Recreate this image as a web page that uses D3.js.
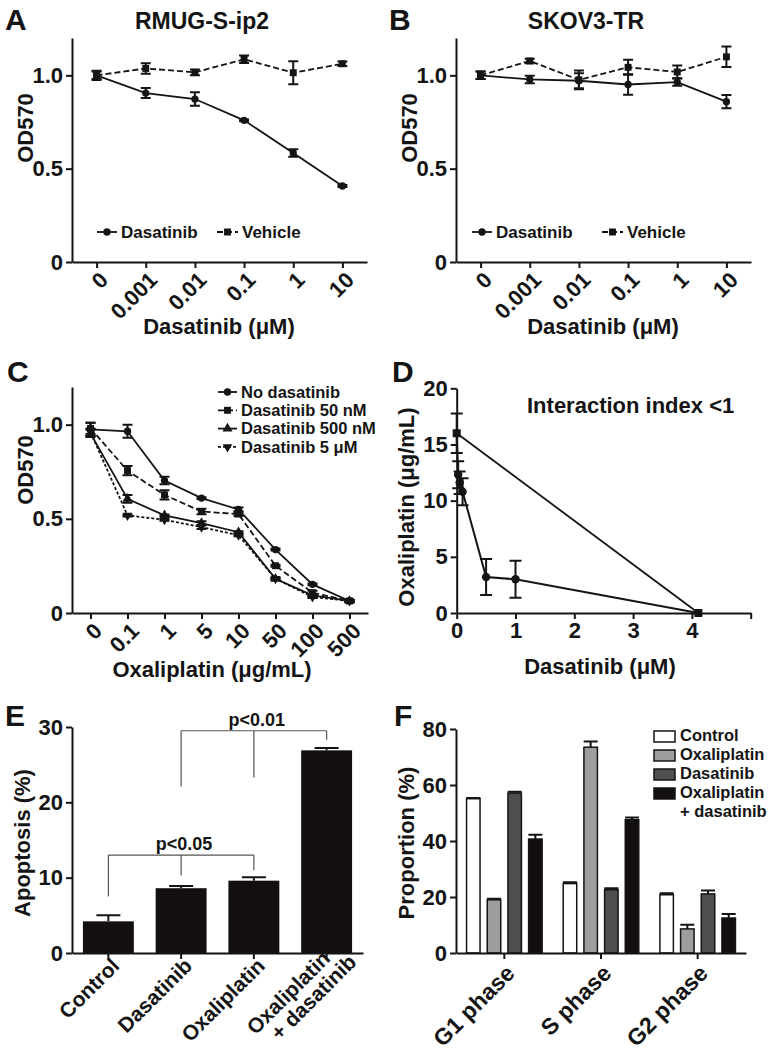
<!DOCTYPE html>
<html>
<head>
<meta charset="utf-8">
<script src="https://cdn.jsdelivr.net/npm/d3@7"></script>
<style>
body { margin: 0; background: #fff; }
svg { font-family: "Liberation Sans", Arial, Helvetica, sans-serif; font-weight: bold; }
.axis path, .axis line { stroke: #141414; stroke-width: 2; }
.axis text { font-family: "Liberation Sans", Arial, sans-serif; font-size: 22px; font-weight: bold; fill: #141414; }
</style>
</head>
<body>
<div id="chart"></div>
<script>
// ---- A / B : viability vs dasatinib dose ----
const dasatinibDoses = ['0', '0.001', '0.01', '0.1', '1', '10'];
const rmugDasatinib = [1.00, 0.905, 0.873, 0.759, 0.584, 0.407];
const rmugDasatinibErr = [0.02, 0.027, 0.036, 0.005, 0.02, 0.005];
const rmugVehicle = [1.00, 1.037, 1.016, 1.086, 1.014, 1.062];
const rmugVehicleErr = [0.025, 0.028, 0.015, 0.02, 0.062, 0.012];
const skovDasatinib = [1.00, 0.978, 0.971, 0.951, 0.964, 0.859];
const skovDasatinibErr = [0.02, 0.02, 0.04, 0.055, 0.02, 0.036];
const skovVehicle = [1.00, 1.077, 0.976, 1.043, 1.018, 1.099];
const skovVehicleErr = [0.02, 0.012, 0.05, 0.04, 0.035, 0.055];

// ---- C : viability vs oxaliplatin dose ----
const oxaliplatinDoses = ['0', '0.1', '1', '5', '10', '50', '100', '500'];
const noDasatinib = [0.975, 0.965, 0.703, 0.61, 0.55, 0.337, 0.152, 0.064];
const noDasatinibErr = [0.035, 0.035, 0.02, 0.005, 0.01, 0.005, 0.005, 0.005];
const dasatinib50nM = [0.98, 0.756, 0.627, 0.539, 0.525, 0.251, 0.108, 0.064];
const dasatinib50nMErr = [0.03, 0.025, 0.025, 0.015, 0.01, 0.005, 0.01, 0.005];
const dasatinib500nM = [0.954, 0.606, 0.518, 0.477, 0.429, 0.182, 0.094, 0.064];
const dasatinib500nMErr = [0.02, 0.02, 0.005, 0.01, 0.005, 0.005, 0.005, 0.005];
const dasatinib5uM = [0.96, 0.518, 0.495, 0.456, 0.413, 0.182, 0.085, 0.064];
const dasatinib5uMErr = [0.02, 0.005, 0.005, 0.01, 0.005, 0.005, 0.005, 0.005];
const legendC = ['No dasatinib', 'Dasatinib 50 nM', 'Dasatinib 500 nM', 'Dasatinib 5 μM'];

// ---- D : isobologram ----
const isoboleDasatinib = [0, 0.025, 0.05, 0.1, 0.5, 1, 4.11];
const isoboleOxaliplatin = [16, 12.3, 11.6, 10.8, 3.2, 3.0, 0];
const isoboleErr = [1.75, 1.2, 1.0, 1.2, 1.6, 1.65, 0];

// ---- E : apoptosis ----
const apoptosisGroups = ['Control', 'Dasatinib', 'Oxaliplatin', 'Oxaliplatin\n+ dasatinib'];
const apoptosisPct = [4.2, 8.6, 9.6, 26.9];
const apoptosisErr = [0.8, 0.3, 0.45, 0.3];
const apoptosisTests = [
    { label: 'p<0.05', level: 13, legs: [['Control', 7.5], ['Dasatinib', 10.3], ['Oxaliplatin', 11]] },
    { label: 'p<0.01', level: 29.5, legs: [['Dasatinib', 22.1], ['Oxaliplatin', 23.3], ['Oxaliplatin\n+ dasatinib', 28.3]] }
];

// ---- F : cell cycle ----
const phases = ['G1 phase', 'S phase', 'G2 phase'];
const treatments = ['Control', 'Oxaliplatin', 'Dasatinib', 'Oxaliplatin\n+ dasatinib'];
const cycleControl = [55.1, 24.8, 20.8];
const cycleOxaliplatin = [19.0, 73.5, 8.6];
const cycleDasatinib = [57.1, 22.6, 21.1];
const cycleCombo = [40.7, 47.6, 12.5];
const cycleControlErr = [0.3, 0.5, 0.5];
const cycleOxaliplatinErr = [0.4, 2.0, 1.5];
const cycleDasatinibErr = [0.5, 0.5, 1.2];
const cycleComboErr = [1.5, 0.8, 1.4];

const ink = '#141414';
const svg = d3.select('#chart').append('svg').attr('width', 768).attr('height', 1050);

function text (x, y, str, size, anchor) {
    return svg.append('text').attr('x', x).attr('y', y)
        .attr('font-size', size).attr('text-anchor', anchor || 'start')
        .attr('fill', ink).text(str);
}

function yTitle (x, y, str) {
    svg.append('text').attr('transform', `translate(${x},${y}) rotate(-90)`)
        .attr('text-anchor', 'middle').attr('font-size', 22).attr('fill', ink).text(str);
}

function leftAxis (y, x0, ticks, fmt) {
    svg.append('g').attr('class', 'axis').attr('transform', `translate(${x0},0)`)
        .call(d3.axisLeft(y).tickValues(ticks).tickFormat(fmt).tickSize(6).tickSizeOuter(0));
}

function bottomAxis (x, y0, rotate) {
    const g = svg.append('g').attr('class', 'axis').attr('transform', `translate(0,${y0})`)
        .call(d3.axisBottom(x).tickSize(6).tickSizeOuter(0));
    if (rotate) {
        g.selectAll('.tick text').each(function (d) {
            const t = d3.select(this).attr('x', 0).attr('y', 0).attr('dy', null)
                .attr('text-anchor', 'end')
                .attr('transform', `translate(${rotate[0]},${rotate[1]}) rotate(-45)`);
            const lines = String(d).split('\n');
            t.text(null);
            lines.forEach((l, i) => {
                t.append('tspan').attr('x', i === 0 ? 0 : 16)
                    .attr('dy', i === 0 ? (0.35 - (lines.length - 1) * 0.5) + 'em' : '1em')
                    .text(l);
            });
        });
    }
    return g;
}

function errorBars (g, pts, cap, upOnly) {
    g.selectAll(null).data(pts.filter(p => p.lo !== p.hi)).join('path')
        .attr('fill', 'none').attr('stroke', ink).attr('stroke-width', 2)
        .attr('d', p => upOnly
            ? `M${p.x},${p.y}V${p.hi}M${p.x - cap / 2},${p.hi}h${cap}`
            : `M${p.x},${p.lo}V${p.hi}M${p.x - cap / 2},${p.lo}h${cap}M${p.x - cap / 2},${p.hi}h${cap}`);
}

function series (x, y, cats, vals, errs, sym, size, dash, rot) {
    const g = svg.append('g');
    const pts = vals.map((v, i) => ({ x: x(cats[i]), y: y(v), lo: y(v - errs[i]), hi: y(v + errs[i]) }));
    g.append('path').datum(pts).attr('fill', 'none').attr('stroke', ink).attr('stroke-width', 1.8)
        .attr('stroke-dasharray', dash).attr('d', d3.line().x(d => d.x).y(d => d.y));
    errorBars(g, pts, 10);
    g.selectAll(null).data(pts).join('path')
        .attr('transform', d => `translate(${d.x},${d.y}) rotate(${rot || 0})`)
        .attr('d', d3.symbol().type(sym).size(size)).attr('fill', ink);
}

function legendLine (x1, x2, y, sym, size, dash, label, fs, rot) {
    svg.append('line').attr('x1', x1).attr('x2', x2).attr('y1', y).attr('y2', y)
        .attr('stroke', ink).attr('stroke-width', 1.8).attr('stroke-dasharray', dash);
    svg.append('path').attr('transform', `translate(${(x1 + x2) / 2},${y}) rotate(${rot || 0})`)
        .attr('d', d3.symbol().type(sym).size(size)).attr('fill', ink);
    text(x2 + 4, y, label, fs).attr('dy', '0.35em');
}

const fmtOD = d => d === 0 ? '0' : d3.format('.1f')(d);

// ---------- panels A and B ----------
function dosePanel (ox, letter, title, das, dasErr, veh, vehErr, leg) {
    const x = d3.scalePoint().domain(dasatinibDoses).range([ox + 72, ox + 367]).padding(0.5);
    const y = d3.scaleLinear().domain([0, 1.2]).range([262, 38]);
    leftAxis(y, ox + 72, [0, 0.5, 1.0], fmtOD);
    bottomAxis(x, 262, [7, 14]);
    series(x, y, dasatinibDoses, veh, vehErr, d3.symbolSquare, 48, '6,3');
    series(x, y, dasatinibDoses, das, dasErr, d3.symbolCircle, 42, null);
    text(ox + 5, 30, letter, 30);
    text(ox + 202, 29, title, 23, 'middle');
    yTitle(ox + 33, 128, 'OD570');
    text(ox + 219, 334, 'Dasatinib (μM)', 22, 'middle');
    legendLine(ox + leg[0], ox + leg[0] + 20, 232, d3.symbolCircle, 42, null, 'Dasatinib', 17);
    legendLine(ox + leg[1], ox + leg[1] + 21, 232, d3.symbolSquare, 48, '6,3', 'Vehicle', 17);
}
dosePanel(0, 'A', 'RMUG-S-ip2', rmugDasatinib, rmugDasatinibErr, rmugVehicle, rmugVehicleErr, [97, 217]);
dosePanel(384, 'B', 'SKOV3-TR', skovDasatinib, skovDasatinibErr, skovVehicle, skovVehicleErr, [88, 218]);

// ---------- panel C ----------
{
    const x = d3.scalePoint().domain(oxaliplatinDoses).range([72, 368]).padding(0.5);
    const y = d3.scaleLinear().domain([0, 1.2]).range([613, 387]);
    leftAxis(y, 72, [0, 0.5, 1.0], fmtOD);
    bottomAxis(x, 613, [7, 14]);
    const specs = [
        [dasatinib5uM, dasatinib5uMErr, d3.symbolTriangle, 40, '3,2', 180],
        [dasatinib500nM, dasatinib500nMErr, d3.symbolTriangle, 44, null, 0],
        [dasatinib50nM, dasatinib50nMErr, d3.symbolSquare, 48, '6,3', 0],
        [noDasatinib, noDasatinibErr, d3.symbolCircle, 42, null, 0]
    ];
    specs.forEach(s => series(x, y, oxaliplatinDoses, s[0], s[1], s[2], s[3], s[4], s[5]));
    text(7, 382, 'C', 30);
    yTitle(33, 470, 'OD570');
    text(212, 677, 'Oxaliplatin (μg/mL)', 22, 'middle');
    const legSym = [[d3.symbolCircle, 42, null, 0], [d3.symbolSquare, 48, '6,3', 0], [d3.symbolTriangle, 44, null, 0], [d3.symbolTriangle, 40, '3,2', 180]];
    legendC.forEach((l, i) => legendLine(218, 237, 392 + i * 18.3, legSym[i][0], legSym[i][1], legSym[i][2], l, 16.5, legSym[i][3]));
}

// ---------- panel D ----------
{
    const x = d3.scaleLinear().domain([0, 5]).range([456.7, 750.7]);
    const y = d3.scaleLinear().domain([0, 20]).range([613, 388.3]);
    leftAxis(y, 456.7, [0, 5, 10, 15, 20], d3.format('d'));
    const gx = svg.append('g').attr('class', 'axis').attr('transform', 'translate(0,613)')
        .call(d3.axisBottom(x).tickValues([0, 1, 2, 3, 4, 5]).tickFormat(d => d === 5 ? '' : d).tickSize(6).tickSizeOuter(0));
    gx.selectAll('.tick text').attr('y', 9);
    const last = isoboleDasatinib.length - 1;
    svg.append('path').attr('fill', 'none').attr('stroke', ink).attr('stroke-width', 1.8)
        .attr('d', d3.line()([[x(isoboleDasatinib[0]), y(isoboleOxaliplatin[0])], [x(isoboleDasatinib[last]), y(isoboleOxaliplatin[last])]]));
    const g = svg.append('g');
    const pts = isoboleDasatinib.map((v, i) => ({ x: x(v), y: y(isoboleOxaliplatin[i]), lo: y(isoboleOxaliplatin[i] - isoboleErr[i]), hi: y(isoboleOxaliplatin[i] + isoboleErr[i]) }));
    g.append('path').datum(pts).attr('fill', 'none').attr('stroke', ink).attr('stroke-width', 2)
        .attr('d', d3.line().x(d => d.x).y(d => d.y));
    errorBars(g, pts, 12);
    g.selectAll(null).data(pts).join('path')
        .attr('transform', d => `translate(${d.x},${d.y})`)
        .attr('d', (d, i) => d3.symbol().type(i === 0 || i === last ? d3.symbolSquare : d3.symbolCircle).size(i === 0 || i === last ? 64 : 56)())
        .attr('fill', ink);
    text(392, 382, 'D', 30);
    text(527, 413, 'Interaction index <1', 22);
    yTitle(414, 507, 'Oxaliplatin (μg/mL)');
    text(600, 674, 'Dasatinib (μM)', 22, 'middle');
}

// ---------- panel E ----------
{
    const x = d3.scaleBand().domain(apoptosisGroups).range([72, 363]).paddingInner(0.3).paddingOuter(0.15);
    const y = d3.scaleLinear().domain([0, 30]).range([953, 727]);
    svg.append('g').selectAll('rect').data(apoptosisPct).join('rect')
        .attr('x', (d, i) => x(apoptosisGroups[i])).attr('width', x.bandwidth())
        .attr('y', d => y(d)).attr('height', d => y(0) - y(d)).attr('fill', '#130f0f');
    const pts = apoptosisPct.map((v, i) => ({ x: x(apoptosisGroups[i]) + x.bandwidth() / 2, y: y(v), lo: y(v), hi: y(v + apoptosisErr[i]) }));
    errorBars(svg.append('g'), pts, 24, true);
    leftAxis(y, 72, [0, 10, 20, 30], d3.format('d'));
    bottomAxis(x, 953, [7, 9]).selectAll('.tick text').style('font-size', '21px');
    const cx = g => x(g) + x.bandwidth() / 2;
    apoptosisTests.forEach(t => {
        const xs = t.legs.map(l => cx(l[0]));
        let d = `M${d3.min(xs)},${y(t.level)}H${d3.max(xs)}`;
        t.legs.forEach(l => { d += `M${cx(l[0])},${y(t.level)}V${y(l[1])}`; });
        svg.append('path').attr('d', d).attr('fill', 'none').attr('stroke', '#555').attr('stroke-width', 1.2);
        text(cx(t.legs[1][0]) + 3, y(t.level) - 5, t.label, 18, 'middle');
    });
    text(5, 726, 'E', 30);
    yTitle(30, 843, 'Apoptosis (%)');
}

// ---------- panel F ----------
{
    const x0 = d3.scaleBand().domain(phases).range([456, 746]).paddingInner(0.144).paddingOuter(0.072);
    const x1 = d3.scaleBand().domain(treatments).range([0, x0.bandwidth()]).paddingInner(0.275).paddingOuter(0.1375);
    const y = d3.scaleLinear().domain([0, 80]).range([953, 729]);
    const fills = ['#ffffff', '#9e9e9e', '#4f4f4f', '#130f0f'];
    const vals = [cycleControl, cycleOxaliplatin, cycleDasatinib, cycleCombo];
    const errs = [cycleControlErr, cycleOxaliplatinErr, cycleDasatinibErr, cycleComboErr];
    treatments.forEach((t, k) => {
        const g = svg.append('g');
        g.selectAll('rect').data(vals[k]).join('rect')
            .attr('x', (d, i) => x0(phases[i]) + x1(t) + 0.75).attr('width', x1.bandwidth() - 1.5)
            .attr('y', d => y(d)).attr('height', d => y(0) - y(d))
            .attr('fill', fills[k]).attr('stroke', ink).attr('stroke-width', 1.5);
        const pts = vals[k].map((v, i) => ({ x: x0(phases[i]) + x1(t) + x1.bandwidth() / 2, y: y(v), lo: y(v), hi: y(v + errs[k][i]) }));
        errorBars(g, pts, 14, true);
    });
    leftAxis(y, 456, [0, 20, 40, 60, 80], d3.format('d'));
    svg.append('g').attr('class', 'axis').attr('transform', 'translate(0,953)')
        .call(d3.axisBottom(x0).tickSize(6).tickSizeOuter(0))
        .selectAll('.tick text').attr('x', 0).attr('y', 0).attr('dy', '0.35em')
        .style('font-size', '23px')
        .attr('text-anchor', 'end').attr('transform', 'translate(6,16) rotate(-45)');
    treatments.forEach((t, k) => {
        const ty = 731 + k * 19;
        svg.append('rect').attr('x', 654).attr('y', ty).attr('width', 21).attr('height', 11)
            .attr('fill', fills[k]).attr('stroke', ink).attr('stroke-width', 1.5);
        t.split('\n').forEach((l, j) => text(680, ty + 10 + j * 19, l, 16.5));
    });
    text(394, 726, 'F', 30);
    yTitle(414, 843, 'Proportion (%)');
}
</script>
</body>
</html>
